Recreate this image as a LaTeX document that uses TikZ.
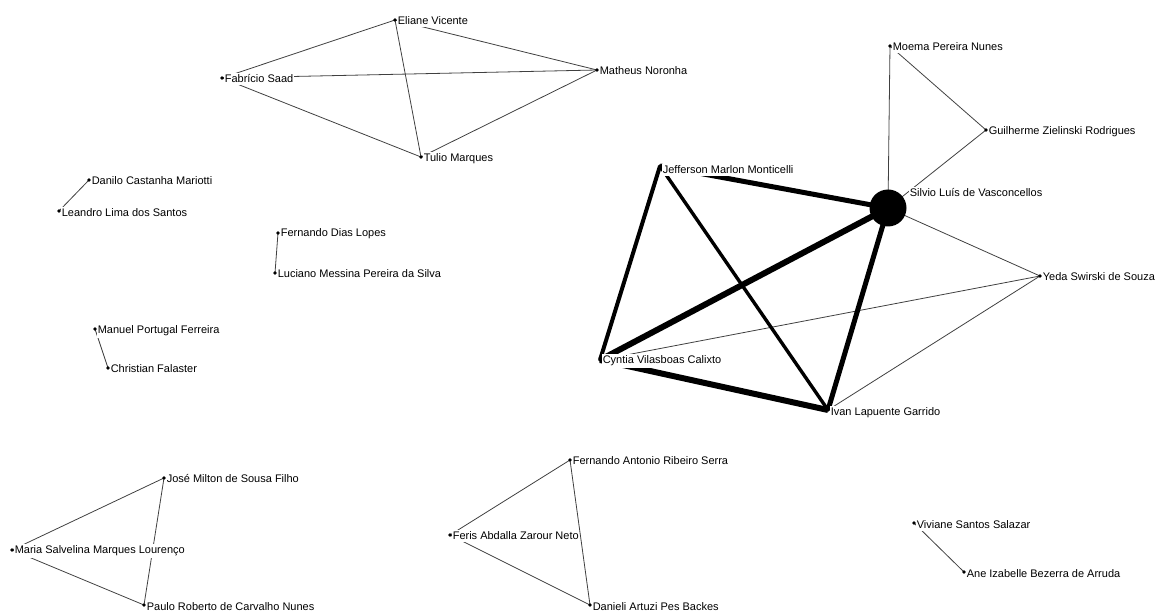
\documentclass[tikz,border=0pt]{standalone}
\usepackage{fontspec}
\setmainfont{Liberation Sans}
\usetikzlibrary{backgrounds}
\begin{document}
\begin{tikzpicture}[x=1pt,y=-1pt,
  vdot/.style={circle,fill=black,inner sep=0pt,minimum size=3.6pt},
  lbl/.style={anchor=west,fill=white,inner xsep=0.6pt,inner ysep=1.5pt,font=\fontsize{11}{13}\selectfont},
  thin edge/.style={draw=black!75,line width=0.8pt},
  w3/.style={draw=black,line width=3.4pt},
  w4/.style={draw=black,line width=4pt},
  w5/.style={draw=black,line width=5pt},
  w6/.style={draw=black,line width=6pt}]
\useasboundingbox (0,0) rectangle (1157,612);
% dots
\node[vdot] (eli) at (395,20) {};
\node[vdot] (fab) at (222,78) {};
\node[vdot] (mat) at (597,70) {};
\node[vdot] (tul) at (421,157) {};
\node[vdot] (dan) at (89,180) {};
\node[vdot] (lea) at (59,211) {};
\node[vdot] (fdl) at (278,233) {};
\node[vdot] (luc) at (275,273) {};
\node[vdot] (man) at (95,329) {};
\node[vdot] (chr) at (108,368) {};
\node[vdot] (moe) at (890,46) {};
\node[vdot] (gui) at (986,130) {};
\node[circle,fill=black,inner sep=0pt,minimum size=37pt] (sil) at (888,208) {};
\node[vdot] (jef) at (660,166) {};
\node[vdot] (yed) at (1040,276) {};
\node[vdot] (cyn) at (600,360) {};
\node[vdot] (iva) at (828,410) {};
\node[vdot] (jos) at (164,478) {};
\node[vdot] (mar) at (12,550) {};
\node[vdot] (pau) at (144,605) {};
\node[vdot] (fas) at (570,460) {};
\node[vdot] (fer) at (450,535) {};
\node[vdot] (dnl) at (590,605) {};
\node[vdot] (viv) at (914,523) {};
\node[vdot] (ane) at (964,572) {};
% labels
\node[lbl] (l-eli) at (397,21) {Eliane Vicente};
\node[lbl] (l-fab) at (224,79) {Fabrício Saad};
\node[lbl] (l-mat) at (599,71) {Matheus Noronha};
\node[lbl] (l-tul) at (423,159) {Tulio Marques};
\node[lbl] (l-dan) at (91,181) {Danilo Castanha Mariotti};
\node[lbl] (l-lea) at (61,213) {Leandro Lima dos Santos};
\node[lbl] (l-fdl) at (280,234) {Fernando Dias Lopes};
\node[lbl] (l-luc) at (277,274) {Luciano Messina Pereira da Silva};
\node[lbl] (l-man) at (97,331) {Manuel Portugal Ferreira};
\node[lbl] (l-chr) at (110,369) {Christian Falaster};
\node[lbl] (l-moe) at (892,47) {Moema Pereira Nunes};
\node[lbl] (l-gui) at (988,132) {Guilherme Zielinski Rodrigues};
\node[lbl] (l-sil) at (909,193) {Silvio Luís de Vasconcellos};
\node[lbl] (l-jef) at (662,170) {Jefferson Marlon Monticelli};
\node[lbl] (l-yed) at (1042,277) {Yeda Swirski de Souza};
\node[lbl] (l-cyn) at (602,361) {Cyntia Vilasboas Calixto};
\node[lbl] (l-iva) at (830,413) {Ivan Lapuente Garrido};
\node[lbl] (l-jos) at (166,479) {José Milton de Sousa Filho};
\node[lbl] (l-mar) at (14,551) {Maria Salvelina Marques Lourenço};
\node[lbl] (l-pau) at (146,607) {Paulo Roberto de Carvalho Nunes};
\node[lbl] (l-fas) at (572,461) {Fernando Antonio Ribeiro Serra};
\node[lbl] (l-fer) at (452,536) {Feris Abdalla Zarour Neto};
\node[lbl] (l-dnl) at (592,607) {Danieli Artuzi Pes Backes};
\node[lbl] (l-viv) at (916,525) {Viviane Santos Salazar};
\node[lbl] (l-ane) at (966,574) {Ane Izabelle Bezerra de Arruda};
% edges
\begin{scope}[on background layer]
\draw[thin edge] (eli.center) -- (fab.center);
\draw[thin edge] (eli.center) -- (mat.center);
\draw[thin edge] (eli.center) -- (tul.center);
\draw[thin edge] (fab.center) -- (mat.center);
\draw[thin edge] (fab.center) -- (tul.center);
\draw[thin edge] (tul.center) -- (mat.center);
\draw[thin edge] (dan.center) -- (lea.center);
\draw[thin edge] (fdl.center) -- (luc.center);
\draw[thin edge] (man.center) -- (chr.center);
\draw[thin edge] (viv.center) -- (ane.center);
\draw[thin edge] (jos.center) -- (mar.center);
\draw[thin edge] (jos.center) -- (pau.center);
\draw[thin edge] (mar.center) -- (pau.center);
\draw[thin edge] (fas.center) -- (fer.center);
\draw[thin edge] (fas.center) -- (dnl.center);
\draw[thin edge] (fer.center) -- (dnl.center);
\draw[thin edge] (moe.center) -- (sil.center);
\draw[thin edge] (moe.center) -- (gui.center);
\draw[thin edge] (gui.center) -- (sil.center);
\draw[thin edge] (sil.center) -- (yed.center);
\draw[thin edge] (cyn.center) -- (yed.center);
\draw[thin edge] (iva.center) -- (yed.center);
\draw[w5] (sil.center) -- (jef.center);
\draw[w6] (sil.center) -- (cyn.center);
\draw[w5] (sil.center) -- (iva.center);
\draw[w4] (jef.center) -- (cyn.center);
\draw[w3] (jef.center) -- (iva.center);
\draw[w6] (cyn.center) -- (iva.center);
\end{scope}
\end{tikzpicture}
\end{document}
